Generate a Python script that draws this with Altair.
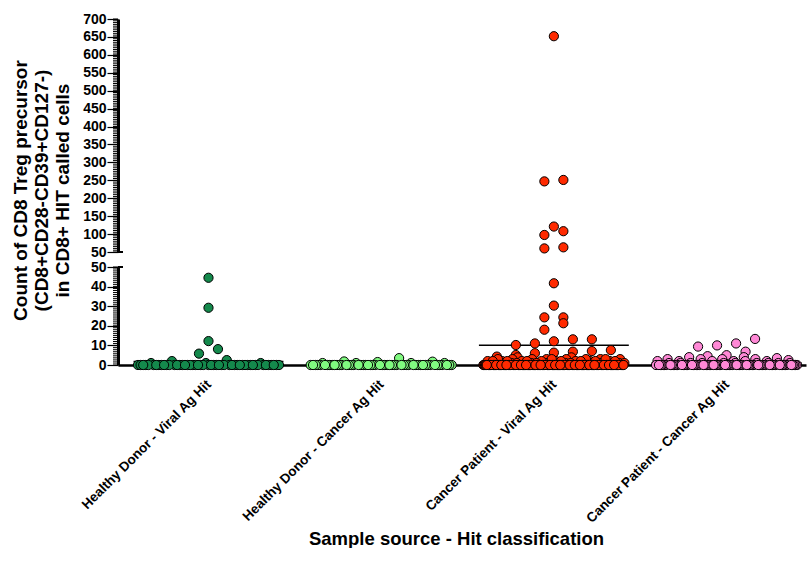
import json
import altair as alt
import pandas as pd

# ---------------- data ----------------
categories = ["Healthy Donor - Viral Ag Hit", "Healthy Donor - Cancer Ag Hit",
              "Cancer Patient - Viral Ag Hit", "Cancer Patient - Cancer Ag Hit"]
colors = ["#14894c", "#80fa80", "#ff2a00", "#ff88d6"]

hd_viral_nonzero = [44.5, 29.2, 12.2, 8.1, 5.8, 2.5, 1, 2, 1, 1]
hd_viral_zero_count = 50

hd_cancer_nonzero = [3.5, 1.8, 1.7, 1.5, 1, 1, 1, 1]
hd_cancer_zero_count = 52

cp_viral_nonzero = [652, 251, 247, 121, 108, 97.5, 63, 60,
                    41.7, 30.3, 24.3, 24.3, 21.3, 18, 13.1, 13.1, 12.1, 11, 10.2,
                    7.6, 7.1, 6.8, 6.3, 6, 5.1, 4.3, 3.9, 3.9,
                    3, 2, 1, 3, 2, 1, 2, 3, 1, 2, 3, 1, 2, 1, 3, 2, 1, 2, 3, 1,
                    2, 1, 3, 2, 1, 2, 3, 1, 2, 1, 3, 2, 1, 2, 1, 3, 2, 1, 2, 1]
cp_viral_zero_count = 124

cp_cancer_nonzero = [13.3, 11, 10, 9.4, 6.8, 5, 4.5, 4, 4, 3.5, 3, 3, 3, 3, 2.5,
                     2, 2, 2, 2, 2, 2, 1, 1, 1, 1, 1, 1, 1, 1, 1, 1]
cp_cancer_zero_count = 75

nonzero_lists = [hd_viral_nonzero, hd_cancer_nonzero, cp_viral_nonzero, cp_cancer_nonzero]
zero_counts = [hd_viral_zero_count, hd_cancer_zero_count, cp_viral_zero_count, cp_cancer_zero_count]

upper_ticks = list(range(50, 701, 5))
upper_major = list(range(50, 701, 50))
lower_ticks = list(range(0, 51, 1))
lower_major = list(range(0, 51, 10))

y_title = ["Count of CD8 Treg precursor", "(CD8+CD28-CD39+CD127-)", "in CD8+ HIT called cells"]
x_title = "Sample source - Hit classification"

# ---------------- layout settings ----------------
W = 688
X_DOMAIN = [-0.524, 3.46]
LOW_H, UP_H, GAP = 98, 233, 15
LOW_DOMAIN, UP_DOMAIN = [0, 50], [50, 700]
PX_PER_X = W / (X_DOMAIN[1] - X_DOMAIN[0])
DOT_ROW = 8.0       # px: points closer than this vertically share a row
ROW_SPACING = 19.0  # px between neighbours in a row
ROW_MAX = 141.0     # px maximal spread of a row
FONT = "Liberation Sans"


def ypix(v):
    if v <= 50:
        return v * LOW_H / 50
    return LOW_H + GAP + (v - 50) * UP_H / 650


def swarm_offsets(vals):
    """Prism-like scatter: group into rows, spread each row around the centre."""
    order = sorted(range(len(vals)), key=lambda k: vals[k])
    offsets = [0.0] * len(vals)
    i = 0
    while i < len(order):
        start = ypix(vals[order[i]])
        row = [order[i]]
        j = i + 1
        while j < len(order) and ypix(vals[order[j]]) - start <= DOT_ROW:
            row.append(order[j])
            j += 1
        n = len(row)
        if n > 1:
            spacing = min(ROW_SPACING, ROW_MAX / (n - 1))
            if n > 8:
                stride = max(1, int(round(n * 0.382)))
                while any(n % p == 0 and stride % p == 0 for p in range(2, stride + 1)):
                    stride += 1
                positions = [(k * stride) % n for k in range(n)]
            else:
                positions = list(range(n))
            for k, idx in enumerate(row):
                offsets[idx] = (positions[k] - (n - 1) / 2) * spacing / PX_PER_X
        i = j
    return offsets


rows = []
for ci, (nz, zc) in enumerate(zip(nonzero_lists, zero_counts)):
    vals = list(nz) + [0.0] * zc
    offs = swarm_offsets(vals)
    for v, o in zip(vals, offs):
        rows.append({"ci": ci, "cat": categories[ci], "value": v, "xpos": ci + o})
df = pd.DataFrame(rows)

# ---------------- encodings ----------------
x_scale = alt.Scale(domain=X_DOMAIN, nice=False, zero=False)
color_enc = alt.Color("cat:N", scale=alt.Scale(domain=categories, range=colors), legend=None)

x_axis_lower = alt.Axis(
    values=[0, 1, 2, 3],
    labelExpr=json.dumps(categories) + "[datum.value]",
    labelAngle=-45, labelAlign="right", labelBaseline="middle",
    labelFont=FONT, labelFontSize=13.5, labelFontWeight="bold", labelColor="black",
    labelPadding=17, labelFlush=False, labelOverlap=False, labelBound=False, labelLimit=400,
    ticks=False, grid=False, domainColor="black", domainWidth=2.5,
    title=x_title, titleFont=FONT, titleFontSize=18.5, titleFontWeight="bold",
    titleColor="black", titleX=338, titleY=173, titleBaseline="middle",
)


def y_axis(values, title=None):
    kw = dict(
        values=values, tickSize=11, tickColor="black", tickWidth=1.2,
        domainColor="black", domainWidth=3,
        labelFont=FONT, labelFontSize=14, labelFontWeight="bold", labelColor="black",
        labelPadding=1, labelOverlap=False, labelFlush=False, grid=False,
    )
    if title is not None:
        kw.update(title=title, titleFont=FONT, titleFontSize=19, titleFontWeight="bold",
                  titleColor="black", titleAngle=-90, titleX=-107, titleY=171,
                  titleAlign="center", titleBaseline="top", titleLineHeight=21,
                  titleLimit=400)
    else:
        kw.update(title=None)
    return alt.Axis(**kw)


y_axis_up = y_axis(upper_major, y_title)
y_axis_low = y_axis(lower_major)

y_up = lambda f: alt.Y(f, scale=alt.Scale(domain=UP_DOMAIN, nice=False, zero=False), axis=y_axis_up)
y_low = lambda f: alt.Y(f, scale=alt.Scale(domain=LOW_DOMAIN, nice=False, zero=False), axis=y_axis_low)

point_mark = dict(size=85, stroke="black", strokeWidth=1, opacity=1, fillOpacity=1)
brk = pd.DataFrame({"v": [50]})

upper_minor = alt.Chart(pd.DataFrame({"t": upper_ticks})).mark_rule(color="black", strokeWidth=1).encode(
    x=alt.value(-5), x2=alt.value(0), y=y_up("t:Q"))
upper_pts = alt.Chart(df).transform_filter("datum.value > 50").mark_circle(**point_mark).encode(
    x=alt.X("xpos:Q", scale=x_scale, axis=None), y=y_up("value:Q"), fill=color_enc)
upper_brk = alt.Chart(brk).mark_rule(color="black", strokeWidth=2).encode(
    x=alt.value(0), x2=alt.value(5), y=y_up("v:Q"))
upper = alt.layer(upper_minor, upper_brk, upper_pts).properties(width=W, height=UP_H)

lower_minor = alt.Chart(pd.DataFrame({"t": lower_ticks})).mark_rule(color="black", strokeWidth=1).encode(
    x=alt.value(-5), x2=alt.value(0), y=y_low("t:Q"))
lower_mean = alt.Chart(df).transform_aggregate(
    m="mean(value)", groupby=["ci"]
).transform_calculate(x1="datum.ci - 0.434", x2="datum.ci + 0.434").mark_rule(
    color="black", strokeWidth=1.5).encode(
    x=alt.X("x1:Q", scale=x_scale, axis=x_axis_lower), x2="x2:Q", y=y_low("m:Q"))
lower_pts = alt.Chart(df).transform_filter("datum.value <= 50").mark_circle(**point_mark).encode(
    x=alt.X("xpos:Q", scale=x_scale, axis=x_axis_lower), y=y_low("value:Q"), fill=color_enc)
lower_brk = alt.Chart(brk).mark_rule(color="black", strokeWidth=2).encode(
    x=alt.value(0), x2=alt.value(5), y=y_low("v:Q"))
lower = alt.layer(lower_minor, lower_mean, lower_brk, lower_pts).properties(width=W, height=LOW_H)

chart = alt.vconcat(upper, lower, spacing=GAP, bounds="flush").resolve_scale(y="independent").properties(
    padding={"left": 10, "top": 12, "right": 2, "bottom": 0}, background="white"
).configure_view(stroke=None)

chart.save("out.html", embed_options={"renderer": "svg", "actions": False})
